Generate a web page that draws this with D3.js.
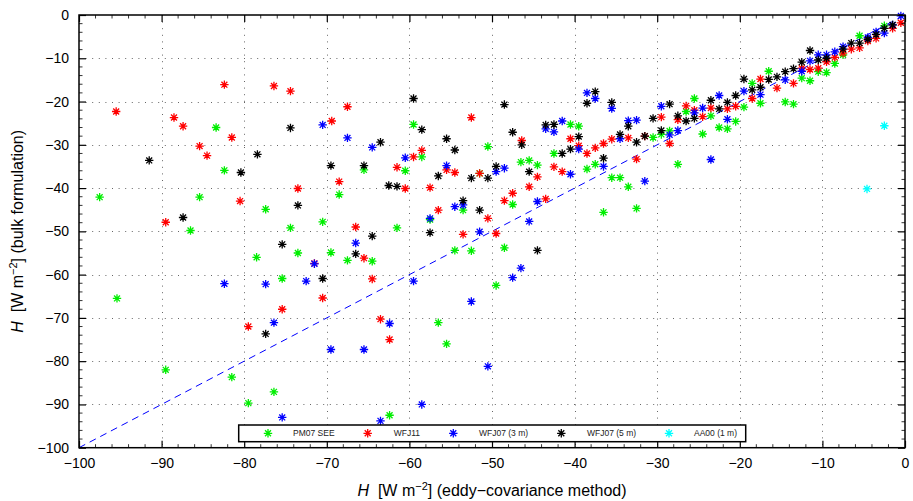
<!DOCTYPE html>
<html><head><meta charset="utf-8">
<script src="https://cdn.jsdelivr.net/npm/d3@7"></script>
<style>body{margin:0;background:#fff}svg{display:block;font-family:"Liberation Sans",Arial,sans-serif}</style>
</head><body><svg id="c" width="913" height="501"></svg>
<script>
const seriesNames = ["PM07 SEE","WFJ11","WFJ07 (3 m)","WFJ07 (5 m)","AA00 (1 m)"];
const seriesColors = ["#00ee00","#ff0000","#0000ff","#000000","#00ffff"];
const xTicks = [-100,-90,-80,-70,-60,-50,-40,-30,-20,-10,0];
const yTicks = [-100,-90,-80,-70,-60,-50,-40,-30,-20,-10,0];

const pm07 = [[-97.5,-42.1],[-95.4,-65.5],[-89.5,-82],[-86.5,-49.8],[-85.4,-42.1],[-83.4,-26],[-82.4,-35.9],[-81.5,-83.7],[-79.5,-89.7],[-78.5,-56],[-77.4,-44.9],[-76.4,-87.1],[-75.4,-60.9],[-74.4,-49.2],[-73.5,-55],[-70.5,-47.8],[-69.5,-54.9],[-68.5,-41.5],[-67.5,-56.7],[-65.5,-35.8],[-64.5,-56.9],[-62.4,-92.5],[-61.5,-49.2],[-60.5,-36],[-59.5,-25.3],[-58.5,-32.8],[-57.5,-47.3],[-56.5,-71.1],[-55.5,-76],[-54.5,-54.4],[-53.5,-45.1],[-52.5,-54.5],[-51.5,-36.6],[-50.5,-30.4],[-49.5,-62.5],[-48.5,-53.8],[-47.5,-43.8],[-46.5,-34],[-45.5,-33.6],[-44.5,-34.7],[-42.5,-32],[-40.5,-25.3],[-39.5,-25.7],[-38.5,-35.6],[-37.5,-34.5],[-36.5,-45.6],[-35.5,-37.6],[-34.5,-37.6],[-33.5,-39.7],[-32.5,-44.7],[-30.5,-28.3],[-29.5,-27.6],[-28.5,-26.8],[-27.5,-34.5],[-26.5,-22.3],[-25.5,-19.3],[-24.5,-27.5],[-23.5,-23.3],[-22.5,-26],[-21.5,-26.3],[-20.5,-24.6],[-19.5,-21.3],[-18.5,-15.8],[-17.5,-20.4],[-16.5,-13],[-14.5,-20.1],[-13.5,-20.6],[-12.5,-14.6],[-11.5,-15.2],[-10.5,-13.1],[-9.5,-13.3],[-8.5,-11.2],[-7.5,-9.2],[-5.5,-4.8],[-2.5,-2.5]];
const wfj11 = [[-95.5,-22.3],[-89.5,-47.9],[-88.5,-23.7],[-87.4,-25.7],[-85.4,-30.3],[-84.5,-32.5],[-82.4,-16.1],[-81.5,-28.3],[-80.5,-43],[-79.5,-72],[-76.4,-16.4],[-75.4,-68],[-74.4,-17.6],[-73.5,-40.1],[-71.5,-57.4],[-70.5,-65.4],[-69.4,-24.5],[-68.5,-38.5],[-67.5,-21.2],[-66.5,-49],[-65.5,-56.2],[-64.5,-61],[-63.5,-70.3],[-62.4,-75],[-61.5,-35.2],[-60.5,-40.1],[-59.5,-32.8],[-58.5,-31.3],[-57.5,-39.9],[-56.5,-45.1],[-55.5,-35.8],[-54.5,-36.4],[-53.5,-50.7],[-52.5,-23.7],[-51.5,-36.6],[-50.5,-47],[-49.5,-50.5],[-48.5,-42.9],[-47.5,-41.2],[-46.4,-29],[-45.5,-39.7],[-44.5,-37.4],[-43.5,-42.5],[-42.5,-35.1],[-41.5,-36.2],[-40.5,-28.6],[-39.5,-30.2],[-38.5,-32],[-37.5,-30.7],[-36.5,-29.7],[-35.5,-28.7],[-33.5,-28.4],[-32.5,-33.3],[-31.5,-28],[-29.5,-23.6],[-28.5,-29.7],[-27.5,-24.2],[-26.5,-21],[-25.5,-22],[-24.5,-23.5],[-23.5,-21.5],[-21.5,-21.7],[-20.5,-21.1],[-18.5,-19.3],[-17.5,-14.8],[-15.5,-16.9],[-13.5,-15.8],[-12.5,-12.3],[-11.5,-12.6],[-10.5,-12.3],[-9.5,-10.8],[-8.5,-9.8],[-7.5,-8.8],[-6.5,-7.9],[-5.5,-7.6],[-4.5,-6],[-3.5,-5.4],[-1.5,-3.1],[-0.5,-1.8]];
const wfj07_3m = [[-82.4,-62.1],[-77.4,-62.2],[-76.4,-71.1],[-75.4,-93],[-72.5,-61.5],[-71.5,-57.5],[-70.5,-25.4],[-69.5,-77.3],[-67.5,-28.4],[-66.5,-52.7],[-65.5,-77.3],[-64.5,-30.6],[-63.5,-93.8],[-62.4,-71.3],[-60.5,-33],[-59.5,-61.5],[-58.5,-90],[-57.5,-47],[-55.5,-34.8],[-54.5,-44.3],[-53.5,-43.9],[-52.5,-66.2],[-51.5,-50.1],[-50.5,-81.2],[-49.5,-36.2],[-48.5,-35.4],[-47.5,-60.7],[-46.5,-58.5],[-45.5,-47.7],[-44.5,-43.1],[-43.5,-26.3],[-42.5,-27],[-41.5,-24.5],[-40.5,-36.8],[-39.5,-31],[-38.5,-18],[-37.5,-19.3],[-36.5,-35],[-35.5,-21.6],[-34.5,-28.6],[-33.5,-24.4],[-32.5,-24.3],[-31.5,-38.4],[-29.5,-21.1],[-28.5,-27.7],[-27.5,-26.7],[-25.5,-22.6],[-24.5,-21.5],[-23.5,-33.4],[-22.5,-18.6],[-21.5,-24.1],[-19.5,-17.6],[-17.5,-18.4],[-14.5,-15],[-12.5,-13],[-11.5,-10.6],[-10.5,-9.2],[-9.5,-9.2],[-8.5,-8.5],[-7.5,-7.3],[-4.5,-5.2],[-3.5,-3.9],[-2.5,-4.2],[-1.5,-2.3],[-0.5,-0.2]];
const wfj07_5m = [[-91.5,-33.6],[-87.4,-46.8],[-80.4,-36.4],[-78.4,-32.2],[-77.4,-73.7],[-75.4,-53],[-74.4,-26.1],[-73.5,-44],[-70.5,-60.9],[-69.5,-34.8],[-66.5,-55.2],[-65.5,-34.8],[-64.5,-51.1],[-63.5,-29.4],[-62.5,-39.4],[-61.5,-39.6],[-59.5,-19.3],[-58.5,-26.5],[-57.5,-50.3],[-56.5,-37.2],[-55.5,-28.6],[-54.5,-31.2],[-53.5,-42.9],[-52.5,-37.7],[-51.5,-45.1],[-50.5,-37.7],[-49.5,-35],[-48.5,-20.7],[-47.5,-27.1],[-46.4,-30],[-45.5,-36.2],[-44.5,-54.4],[-43.5,-25.4],[-42.5,-25.3],[-41.5,-32],[-40.5,-31],[-39.5,-28.1],[-38.5,-20.4],[-37.5,-17.7],[-36.5,-33.1],[-35.5,-20.2],[-34.5,-27.6],[-33.5,-25.7],[-32.5,-29.4],[-31.5,-28],[-30.5,-23.9],[-29.5,-26.7],[-28.5,-20.6],[-27.5,-23.3],[-26.5,-24.5],[-25.5,-23.9],[-23.5,-19.7],[-22.5,-21.7],[-21.5,-20.2],[-20.5,-18.6],[-19.5,-14.8],[-18.5,-17.3],[-17.5,-16.7],[-16.5,-14.9],[-15.5,-14.3],[-14.5,-13.1],[-13.5,-12.4],[-12.5,-10.9],[-11.5,-8.2],[-10.5,-10.4],[-9.5,-10],[-7.5,-7.9],[-6.5,-6.5],[-5.5,-6.5],[-4.5,-5.6],[-3.5,-4.5],[-2.5,-3.1],[-1.5,-2.3]];
const aa00 = [[-4.6,-40.2],[-2.5,-25.6]];
const oneToOne = [[-100,-100],[0,0]];

const allSeries = [pm07, wfj11, wfj07_3m, wfj07_5m, aa00];

const svg = d3.select("#c");
const L=79, R=905, T=15, B=447.7;
const x = d3.scaleLinear().domain([-100,0]).range([L,R]);
const y = d3.scaleLinear().domain([-100,0]).range([B,T]);
const fmt = d => d===0 ? "0" : "\u2212"+Math.abs(d);

// grid
const grid = svg.append("g").attr("stroke","#666").attr("stroke-width",1).attr("stroke-dasharray","1,5.6");
grid.selectAll(".gx").data(xTicks.slice(1,-1)).join("line")
  .attr("x1",d=>Math.round(x(d))+0.5).attr("x2",d=>Math.round(x(d))+0.5).attr("y1",T).attr("y2",B);
grid.selectAll(".gy").data(yTicks.slice(1,-1)).join("line")
  .attr("y1",d=>Math.round(y(d))+0.5).attr("y2",d=>Math.round(y(d))+0.5).attr("x1",L).attr("x2",R);

// 1:1 line
svg.append("path").datum(oneToOne)
  .attr("d", d3.line().x(d=>x(d[0])).y(d=>y(d[1])))
  .attr("stroke","#0000ff").attr("stroke-width",1).attr("stroke-dasharray","7,5").attr("fill","none");

// marker
function star(cx, cy, r){
  const d = r*0.7071;
  return `M${cx-r},${cy}L${cx+r},${cy}M${cx},${cy-r}L${cx},${cy+r}M${cx-d},${cy-d}L${cx+d},${cy+d}M${cx-d},${cy+d}L${cx+d},${cy-d}`;
}
allSeries.forEach((s,i)=>{
  svg.append("g").selectAll("path").data(s).join("path")
    .attr("d", d=>star(x(d[0]), y(d[1]), 4.2))
    .attr("stroke", seriesColors[i]).attr("stroke-width",1.3).attr("fill","none");
});

// axes
const axB = d3.axisBottom(x).tickValues(xTicks).tickFormat(fmt).tickSizeInner(-7).tickSizeOuter(0).tickPadding(10);
const axL = d3.axisLeft(y).tickValues(yTicks).tickFormat(fmt).tickSizeInner(-7).tickSizeOuter(0).tickPadding(10);
const axT = d3.axisTop(x).tickValues(xTicks).tickFormat("").tickSizeInner(-7).tickSizeOuter(0);
const axR = d3.axisRight(y).tickValues(yTicks).tickFormat("").tickSizeInner(-7).tickSizeOuter(0);
function style(g){ g.select(".domain").remove(); g.selectAll("line").attr("stroke","#000").attr("stroke-width",1.2);
  g.selectAll("text").attr("font-size",14).attr("fill","#000").attr("font-family","Liberation Sans, Arial, sans-serif"); }
svg.append("g").attr("transform",`translate(0,${B})`).call(axB).call(style);
svg.append("g").attr("transform",`translate(${L},0)`).call(axL).call(style);
svg.append("g").attr("transform",`translate(0,${T})`).call(axT).call(style);
svg.append("g").attr("transform",`translate(${R},0)`).call(axR).call(style);
// minor ticks
const minor = d3.range(-98,0,2).filter(v=>v%10!==0);
const mg = svg.append("g").attr("stroke","#000").attr("stroke-width",0.8);
minor.forEach(v=>{
  mg.append("line").attr("x1",x(v)).attr("x2",x(v)).attr("y1",B).attr("y2",B-3.5);
  mg.append("line").attr("x1",x(v)).attr("x2",x(v)).attr("y1",T).attr("y2",T+3.5);
  mg.append("line").attr("y1",y(v)).attr("y2",y(v)).attr("x1",L).attr("x2",L+3.5);
  mg.append("line").attr("y1",y(v)).attr("y2",y(v)).attr("x1",R).attr("x2",R-3.5);
});
svg.append("rect").attr("x",L).attr("y",T).attr("width",R-L).attr("height",B-T)
  .attr("fill","none").attr("stroke","#000").attr("stroke-width",1.5);

// axis titles
const xt = svg.append("text").attr("x",(L+R)/2).attr("y",496).attr("text-anchor","middle").attr("font-size",16);
xt.append("tspan").attr("font-style","italic").text("H");
xt.append("tspan").text("\u00a0\u00a0[W m");
xt.append("tspan").attr("font-size",11).attr("dy",-6).text("\u22122");
xt.append("tspan").attr("dy",6).text("] (eddy\u2212covariance method)");

const yt = svg.append("text").attr("transform",`translate(23,${(T+B)/2}) rotate(-90)`).attr("text-anchor","middle").attr("font-size",16);
yt.append("tspan").attr("font-style","italic").text("H");
yt.append("tspan").text("\u00a0\u00a0[W m");
yt.append("tspan").attr("font-size",11).attr("dy",-6).text("\u22122");
yt.append("tspan").attr("dy",6).text("] (bulk formulation)");

// legend
const lg = svg.append("g");
lg.append("rect").attr("x",238.7).attr("y",425).attr("width",507).attr("height",16.7)
  .attr("fill","#fff").attr("stroke","#000").attr("stroke-width",1.5);
const lgMarkX = [268, 367.7, 453.3, 561.3, 669];
const lgTextX = [293, 393.7, 479, 587, 694];
seriesNames.forEach((n,i)=>{
  lg.append("path").attr("d", star(lgMarkX[i], 433.3, 4.2)).attr("stroke",seriesColors[i]).attr("stroke-width",1.3).attr("fill","none");
  lg.append("text").attr("x",lgTextX[i]).attr("y",436.3).attr("font-size",8.5).attr("fill","#222").text(n);
});
</script></body></html>
